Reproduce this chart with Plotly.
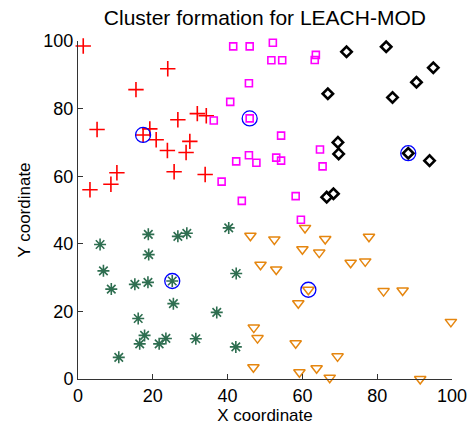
import plotly.graph_objects as go

# Cluster 1 (red plus)
c1_x = [1.4, 24.0, 15.5, 5.1, 17.4, 19.2, 20.9, 26.7, 31.9, 34.3, 29.9, 23.9, 28.9, 10.4, 25.7, 34.0, 8.8, 3.2]
c1_y = [98.5, 91.8, 85.6, 73.8, 72.2, 74.0, 70.8, 76.7, 78.5, 77.9, 70.3, 67.6, 67.0, 61.0, 61.3, 60.5, 57.6, 56.0]
# Cluster 2 (magenta squares)
c2_x = [41.5, 45.9, 45.7, 40.7, 36.3, 45.9, 45.7, 42.3, 47.7, 38.4, 43.8, 52.1, 51.7, 54.6, 63.6, 63.3, 54.3, 53.0, 54.3, 64.7, 65.4, 58.2, 59.6]
c2_y = [98.4, 98.4, 87.5, 82.0, 76.5, 77.1, 66.2, 64.4, 64.0, 58.4, 52.7, 99.5, 94.3, 94.3, 95.9, 94.4, 72.0, 65.5, 64.6, 67.9, 62.9, 54.1, 47.1]
# Cluster 3 (black diamonds)
c3_x = [71.8, 82.4, 95.0, 90.5, 84.1, 66.8, 69.5, 69.7, 88.3, 94.0, 66.5, 68.3]
c3_y = [96.8, 98.3, 92.1, 87.8, 83.3, 84.4, 70.0, 66.6, 66.8, 64.6, 53.8, 54.8]
# Cluster 4 (green asterisks)
c4_x = [5.9, 18.8, 26.7, 29.1, 40.3, 18.9, 6.8, 8.9, 15.2, 18.7, 25.2, 42.3, 25.5, 37.1, 16.1, 17.8, 16.5, 23.5, 21.7, 31.5, 42.2, 10.9]
c4_y = [39.8, 42.8, 42.2, 43.1, 44.7, 36.8, 32.0, 26.6, 28.0, 28.6, 29.0, 31.2, 22.3, 19.7, 17.9, 12.9, 10.4, 12.0, 10.4, 11.9, 9.5, 6.4]
# Cluster 5 (orange triangles)
c5_x = [46.1, 48.8, 47.0, 48.0, 46.9, 60.7, 52.5, 66.1, 77.8, 60.0, 64.5, 53.0, 72.9, 76.8, 61.6, 58.9, 81.7, 86.8, 99.7, 58.2, 69.4, 59.2, 63.8, 67.3, 91.5]
c5_y = [42.4, 33.8, 15.2, 12.1, 3.5, 44.7, 41.3, 41.4, 42.1, 38.4, 37.4, 32.4, 34.4, 34.8, 26.4, 22.4, 26.0, 26.2, 16.9, 10.6, 6.7, 2.0, 3.2, 0.4, 0.0]
# Cluster heads (blue circles)
ch_x = [17.4, 45.9, 88.3, 25.2, 61.6]
ch_y = [72.2, 77.1, 66.8, 29.0, 26.4]

ticks = [0, 20, 40, 60, 80, 100]
FONT = "Liberation Sans, Arial, sans-serif"

fig = go.Figure()
fig.add_trace(go.Scatter(x=c1_x, y=c1_y, mode="markers", cliponaxis=False,
    marker=dict(symbol="cross-thin-open", size=11, color="#ff0000", line=dict(color="#ff0000", width=1.6))))
fig.add_trace(go.Scatter(x=c2_x, y=c2_y, mode="markers", cliponaxis=False,
    marker=dict(symbol="square-open", size=7, color="#ff00ff", line=dict(color="#ff00ff", width=1.6))))
fig.add_trace(go.Scatter(x=c3_x, y=c3_y, mode="markers", cliponaxis=False,
    marker=dict(symbol="diamond-open", size=8, color="#000000", line=dict(color="#000000", width=2.6))))
fig.add_trace(go.Scatter(x=c4_x, y=c4_y, mode="markers", cliponaxis=False,
    marker=dict(symbol="asterisk-open", size=10, color="#2e6e50", line=dict(color="#2e6e50", width=1.6))))
fig.add_trace(go.Scatter(x=c5_x, y=c5_y, mode="markers", cliponaxis=False,
    marker=dict(symbol="triangle-down-open", size=10, color="#e5860f", line=dict(color="#e5860f", width=1.5))))
fig.add_trace(go.Scatter(x=ch_x, y=ch_y, mode="markers", cliponaxis=False,
    marker=dict(symbol="circle-open", size=15, color="#0000ff", line=dict(color="#0000ff", width=1.3))))

axis_common = dict(range=[0, 100], tickvals=ticks, ticks="inside", ticklen=5, tickcolor="#333333",
                   showline=True, linecolor="#333333", linewidth=1, mirror=False, showgrid=False,
                   zeroline=False, automargin=False, tickfont=dict(size=18, color="#000000", family=FONT))
fig.update_layout(
    width=476, height=426, showlegend=False,
    margin=dict(l=78, r=24, t=41, b=47),
    paper_bgcolor="white", plot_bgcolor="white",
    font=dict(family=FONT, color="#000000"),
    title=dict(text="Cluster formation for LEACH-MOD", x=0.5565, xanchor="center", y=0.958, yanchor="middle",
               font=dict(size=21, family=FONT, color="#000000")),
    xaxis=dict(axis_common, title=dict(text="X coordinate", font=dict(size=17, family=FONT), standoff=2)),
    yaxis=dict(axis_common, title=dict(text="Y coordinate", font=dict(size=17, family=FONT), standoff=8)),
)
fig.write_html("out.html")
